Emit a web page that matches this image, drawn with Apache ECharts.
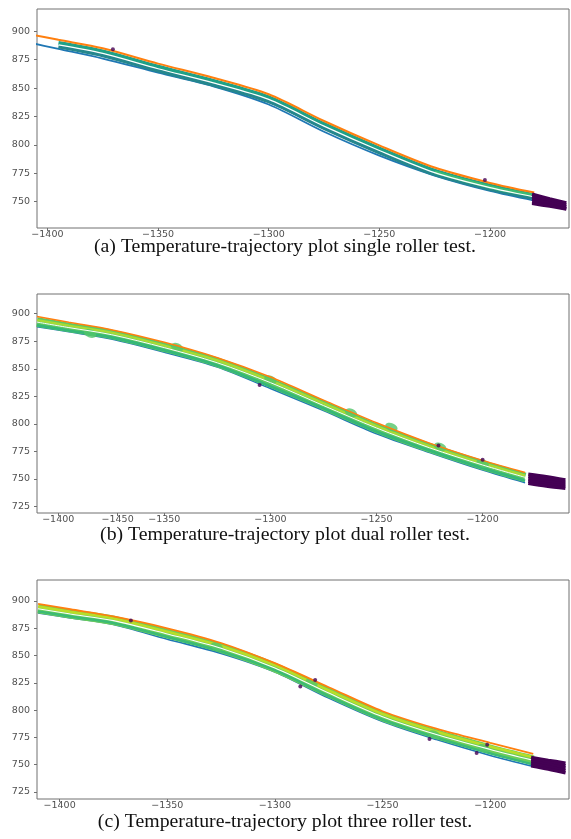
<!DOCTYPE html>
<html>
<head>
<meta charset="utf-8">
<script src="https://cdn.jsdelivr.net/npm/echarts@6/dist/echarts.min.js"></script>
<style>
html,body{margin:0;padding:0;background:#fff;}
#chart{width:571px;height:839px;}
</style>
</head>
<body>
<div id="chart"></div>
<script>
// ---------- data ----------
const xs = [-1410, -1395, -1375, -1350, -1325, -1300, -1275, -1250, -1225, -1200, -1180];

// panel (a) single roller
const aOrange = [898.2, 892.5, 885, 871.5, 859, 844.5, 821, 799.5, 780, 766.5, 758];
const aBand1  = [null, 889.7, 882.2, 868.7, 856.2, 841.7, 818.2, 796.7, 777.2, 763.9, 755.6];
const aWhite  = [null, 888, 880.5, 867, 854.5, 840, 816.5, 795, 775.5, 762.3, 754.2];
const aBand2  = [null, 886.6, 879, 865.5, 853, 838.5, 815, 793.5, 774.3, 761.2, 753.2];
const aBand3  = [null, null, null, null, null, null, null, null, 776, 763, 755.5];
const aBlue2  = [null, null, null, null, 853.2, 837.6, 814.2, 793, 775, 761.4, 752.8];
const aBlue   = [890.8, 884.5, 876, 863.5, 851.5, 835.5, 811.5, 790.5, 773, 759.5, 751];

// panel (b) dual roller
const bOrange = [897.5, 892.2, 885.5, 874, 860, 842.5, 821.5, 801, 782.5, 766.8, 755.8];
const bBand   = [892.5, 887.6, 881.3, 869.5, 855.8, 837.3, 816.8, 796, 778.2, 762.5, 751.3];
const bYellow = [894.2, 889.2, 882.8, 871, 857.5, 839.2, 818.6, 798, 779.8, 764.2, 753];
const bWhite  = [892.4, 887.4, 881, 869.2, 855.4, 837.4, 816.6, 796.2, 778.2, 762.6, 751.4];
const bTeal   = [889.6, 884.8, 878.5, 866.8, 853, 834, 814, 793, 775.8, 759.8, 748.4];
const bBlue   = [888.3, 883.6, 877, 865, 851.5, 832, 812, 791, 774, 758, 746.5];

// panel (c) three roller
const cOrange = [897.3, 892.4, 885.8, 875, 861.5, 843, 821, 799, 783, 770, 760];
const cBand   = [893, 888.2, 882.3, 870, 856.8, 839, 816, 794.2, 778, 764.2, 754.2];
const cYellow = [894.8, 890, 884, 871.8, 858.8, 841, 818, 796.5, 780.2, 766.6, 756.8];
const cWhite  = [892.8, 888, 882, 869.8, 856.6, 838.6, 815.6, 794, 777.7, 764, 754];
const cTeal   = [890.5, 885.8, 879.8, 867, 853.8, 836.6, 812.8, 791.2, 774.8, 760.4, 750.2];
const cBlue   = [889, 884.5, 878.5, 865, 852, 835, 811, 789.5, 773, 758.5, 748.5];

// purple end blobs (rows from top to bottom)
const aPurpleX = [-1181, -1173, -1165.5];
const aPurple = [[756.5, 752.5, 749], [754.3, 750.5, 747.2], [752, 748.6, 745.6], [749.8, 746.8, 744], [748.5, 746, 743.5]];
const bPurpleX = [-1178.5, -1170, -1161];
const bPurple = [[754.3, 752, 749], [752, 749.8, 747.1], [749.9, 747.6, 745.2], [747.8, 745.5, 743.3], [746, 743.5, 741.5]];
const cPurpleX = [-1181, -1173, -1165];
const cPurple = [[756.7, 754, 751.5], [754.8, 752, 749.2], [752.9, 750, 747], [751, 748, 744.8], [749, 746, 742.5]];

// small dark spots on the band
const aSpots = [[-1370.4, 884.2], [-1202.3, 769.1]];
const bSpots = [[-1305.1, 835.2], [-1220.8, 780.3], [-1200, 767.3]];
const cSpots = [[-1366.9, 882], [-1281.3, 827.7], [-1288.2, 821.6], [-1228.2, 773.5], [-1201.4, 768.3], [-1206.3, 760.7]];
// greenish bulges on the band
const bBulges = [[-1385, 882], [-1344, 869.5], [-1300, 840], [-1262, 810], [-1243, 797], [-1220, 779], [-1200, 764]];
const cBulges = [[-1327, 858], [-1283, 825], [-1226, 777.5], [-1203, 765]];

// axis ticks / labels
const yTicksA = [750, 775, 800, 825, 850, 875, 900];
const yTicksBC = [725, 750, 775, 800, 825, 850, 875, 900];
const xTicksA = [-1400, -1350, -1300, -1250, -1200];
const xLabelsA = ['−1400', '−1350', '−1300', '−1250', '−1200'];
const xTicksB = [-1400, -1372, -1350, -1300, -1250, -1200];
const xLabelsB = ['−1400', '−1450', '−1350', '−1300', '−1250', '−1200'];
const xTicksC = [-1400, -1350, -1300, -1250, -1200];
const xLabelsC = ['−1400', '−1350', '−1300', '−1250', '−1200'];

const captions = [
  '(a) Temperature-trajectory plot single roller test.',
  '(b) Temperature-trajectory plot dual roller test.',
  '(c) Temperature-trajectory plot three roller test.'
];

// ---------- helpers ----------
function pts(xv, yv) {
  const out = [];
  for (let i = 0; i < xv.length; i++) if (yv[i] != null) out.push([xv[i], yv[i]]);
  return out;
}
function line(idx, xv, yv, color, width, z) {
  return {
    type: 'line', xAxisIndex: idx, yAxisIndex: idx, data: pts(xv, yv),
    smooth: 0.3, symbol: 'none', silent: true, z: z || 2,
    lineStyle: { color: color, width: width, cap: 'butt' }
  };
}
function spots(idx, data) {
  return { type: 'scatter', xAxisIndex: idx, yAxisIndex: idx, data: data,
    symbolSize: 4, itemStyle: { color: '#440154' }, z: 6, silent: true };
}
function bulges(idx, data, color) {
  return { type: 'scatter', xAxisIndex: idx, yAxisIndex: idx, data: data,
    symbol: 'circle', symbolSize: [13, 8], symbolRotate: -22,
    itemStyle: { color: color }, z: 3, silent: true };
}
function purple(idx, xv, rows) {
  return rows.map(r => line(idx, xv, r, '#440154', 3.4, 5));
}

const grids = [
  { left: 37, right: 2, top: 9, height: 219 },
  { left: 37, right: 2, top: 294, height: 219 },
  { left: 37, right: 2, top: 580, height: 219 }
];
const xRanges = [[-1404.7, -1164.3], [-1410, -1159.3], [-1410.5, -1163.4]];
const yRanges = [[726.8, 919.6], [719, 917.9], [718.6, 919.2]];
const xTickSets = [[xTicksA, xLabelsA], [xTicksB, xLabelsB], [xTicksC, xLabelsC]];
const yTickSets = [yTicksA, yTicksBC, yTicksBC];

const labelFont = { fontFamily: 'DejaVu Sans', fontSize: 9.5, color: '#505050' };

const option = {
  animation: false,
  backgroundColor: '#fff',
  grid: grids.map(g => Object.assign({ show: true, borderColor: '#707070', borderWidth: 1, backgroundColor: 'transparent' }, g)),
  xAxis: grids.map((g, i) => ({
    type: 'value', gridIndex: i, min: xRanges[i][0], max: xRanges[i][1],
    axisLine: { show: false }, splitLine: { show: false },
    axisTick: { show: true, customValues: xTickSets[i][0], length: 3, lineStyle: { color: '#707070' } },
    axisLabel: Object.assign({ customValues: xTickSets[i][0], margin: 2,
      formatter: v => { const k = xTickSets[i][0].indexOf(v); return k >= 0 ? xTickSets[i][1][k] : ''; } }, labelFont)
  })),
  yAxis: grids.map((g, i) => ({
    type: 'value', gridIndex: i, min: yRanges[i][0], max: yRanges[i][1],
    axisLine: { show: false }, splitLine: { show: false },
    axisTick: { show: true, customValues: yTickSets[i], length: 3, lineStyle: { color: '#707070' } },
    axisLabel: Object.assign({ customValues: yTickSets[i], margin: 7, formatter: v => String(v) }, labelFont)
  })),
  title: captions.map((t, i) => ({
    text: t, left: 280, textAlign: 'center', top: [232, 520, 807][i],
    textStyle: { fontFamily: 'Liberation Serif', fontSize: 19.8, fontWeight: 'normal', color: '#111' }
  })),
  series: [
    // (a)
    line(0, xs, aBlue, '#1f77b4', 1.8, 2),
    line(0, xs, aBlue2, '#2a6aa8', 1.4, 2),
    line(0, xs, aBand2, '#25878d', 4.2, 3),
    line(0, xs, aBand1, '#1fa187', 4.2, 3),
    line(0, xs, aBand3, '#3dbc74', 3.6, 3),
    line(0, xs, aWhite, '#ffffff', 1.2, 4),
    line(0, xs, aOrange, '#ff7f0e', 2, 4),
    ...purple(0, aPurpleX, aPurple),
    spots(0, aSpots),
    // (b)
    line(1, xs, bBlue, '#1f77b4', 1.6, 2),
    line(1, xs, bBand, '#5ec962', 9.5, 3),
    bulges(1, bBulges, '#52c569'),
    line(1, xs, bTeal, '#35b779', 2.6, 3),
    line(1, xs, bYellow, '#a8db34', 2.4, 3),
    line(1, xs, bWhite, '#ffffff', 1, 4),
    line(1, xs, bOrange, '#ff7f0e', 1.5, 4),
    ...purple(1, bPurpleX, bPurple),
    spots(1, bSpots),
    // (c)
    line(2, xs, cBlue, '#1f77b4', 1.6, 2),
    line(2, xs, cBand, '#6ccd5a', 9.5, 3),
    bulges(2, cBulges, '#52c569'),
    line(2, xs, cTeal, '#3bbb75', 2.4, 3),
    line(2, xs, cYellow, '#b8de29', 2.6, 3),
    line(2, xs, cWhite, '#ffffff', 1.1, 4),
    line(2, xs, cOrange, '#ff7f0e', 1.8, 4),
    ...purple(2, cPurpleX, cPurple),
    spots(2, cSpots)
  ]
};

const chart = echarts.init(document.getElementById('chart'), null, { renderer: 'canvas' });
chart.setOption(option);
</script>
</body>
</html>
